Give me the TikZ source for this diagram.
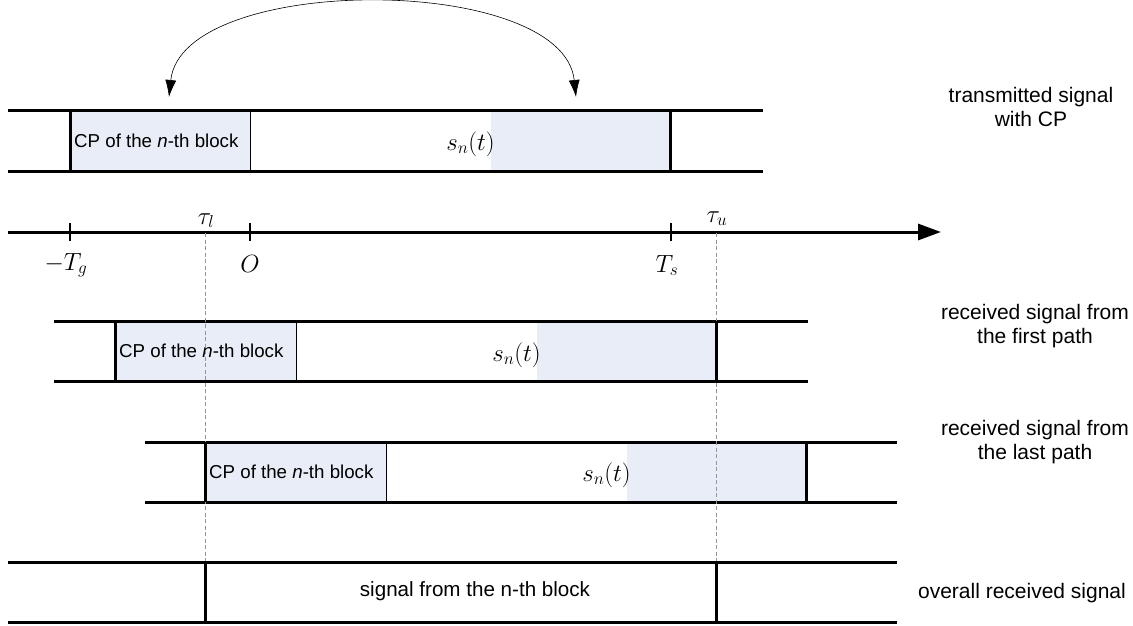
\documentclass[tikz,border=0pt]{standalone}
\usepackage{fontspec}
\setmainfont{Liberation Sans}
\usetikzlibrary{arrows.meta}
\definecolor{cpblue}{RGB}{232,237,247}
\definecolor{guidegray}{RGB}{150,150,150}
\begin{document}
\begin{tikzpicture}[x=1pt,y=-1pt,
  thickline/.style={line width=3pt},
  thinline/.style={line width=0.9pt},
  tickline/.style={line width=2.4pt},
  guide/.style={guidegray, line width=0.8pt, dash pattern=on 4pt off 2.5pt},
  cpbox/.style={fill=cpblue},
  cptext/.style={font=\fontsize{18.7}{22}\selectfont, inner sep=0pt, anchor=base west},
  mainlbl/.style={font=\fontsize{20.6}{24}\selectfont, inner sep=0pt, anchor=base},
  sidelbl/.style={font=\fontsize{21}{24}\selectfont, inner sep=0pt, align=center, anchor=base},
  sig/.style={font=\fontsize{24}{26}\selectfont, inner sep=0pt, anchor=base east},
  axlbl/.style={font=\fontsize{24}{26}\selectfont, inner sep=0pt, anchor=base}]
\useasboundingbox (0,0) rectangle (1133,626);

% ---------- row 1: transmitted signal ----------
\coordinate (r1L) at (8,110);   \coordinate (r1R) at (763,110);
\coordinate (r1Lb) at (8,171);  \coordinate (r1Rb) at (763,171);
\coordinate (r1a) at (70,110);  \coordinate (r1ab) at (70,171);
\coordinate (r1c) at (250,110); \coordinate (r1cb) at (250,171);
\coordinate (r1d) at (491,110); \coordinate (r1e) at (670,110);
\coordinate (r1eb) at (670,171);
\fill[cpblue] (r1a) rectangle (r1cb);
\fill[cpblue] (r1d) rectangle (r1eb);
\draw[thickline] (r1L) -- (r1R);
\draw[thickline] (r1Lb) -- (r1Rb);
\draw[thickline] (r1a) -- (r1ab);
\draw[thickline] (r1e) -- (r1eb);
\draw[thinline] (r1c) -- (r1cb);
\node[cptext] (cp1) at (74,147) {CP of the \textit{n}-th block};
\node[sig] (s1) at (495,150) {$s_n(t)$};

% ---------- copy arrow ----------
\coordinate (arcA) at (169,97);
\coordinate (arcB) at (576,97);
\draw[line width=0.6pt, {Latex[length=17pt,width=11pt]}-{Latex[length=17pt,width=11pt]}]
  (arcA) .. controls (182,-27) and (563,-27) .. (arcB);

% ---------- time axis ----------
\coordinate (ax0) at (8,232);
\coordinate (ax1) at (941,232);
\draw[thickline, -{Triangle[length=23pt,width=16pt]}] (ax0) -- (ax1);
\foreach \x/\nm in {70/tg,250/to,671/ts}{
  \coordinate (\nm a) at (\x,223);
  \coordinate (\nm b) at (\x,241);
  \draw[tickline] (\nm a) -- (\nm b);
}
\node[axlbl] (lTg) at (66,270) {$-T_g$};
\node[axlbl] (lO)  at (250,272) {$O$};
\node[axlbl] (lTs) at (667,272) {$T_s$};
\node[axlbl] (ltl) at (206,224) {$\tau_l$};
\node[axlbl] (ltu) at (717,222) {$\tau_u$};

% ---------- guides ----------
\coordinate (gl0) at (205,233); \coordinate (gl1) at (205,562);
\coordinate (gu0) at (716,233); \coordinate (gu1) at (716,562);

% ---------- row 2: first path ----------
\coordinate (r2L) at (54,321);  \coordinate (r2R) at (808,321);
\coordinate (r2Lb) at (54,381); \coordinate (r2Rb) at (808,381);
\coordinate (r2a) at (115,321); \coordinate (r2ab) at (115,381);
\coordinate (r2c) at (296,321); \coordinate (r2cb) at (296,381);
\coordinate (r2d) at (537,321); \coordinate (r2e) at (716,321);
\coordinate (r2eb) at (716,381);
\fill[cpblue] (r2a) rectangle (r2cb);
\fill[cpblue] (r2d) rectangle (r2eb);
\draw[thickline] (r2L) -- (r2R);
\draw[thickline] (r2Lb) -- (r2Rb);
\draw[thickline] (r2a) -- (r2ab);
\draw[thinline] (r2c) -- (r2cb);
\node[cptext] (cp2) at (119,357) {CP of the \textit{n}-th block};
\node[sig] (s2) at (541,361) {$s_n(t)$};

% ---------- row 3: last path ----------
\coordinate (r3L) at (145,442);  \coordinate (r3R) at (897,442);
\coordinate (r3Lb) at (145,502); \coordinate (r3Rb) at (897,502);
\coordinate (r3a) at (205,442);  \coordinate (r3ab) at (205,502);
\coordinate (r3c) at (386,442);  \coordinate (r3cb) at (386,502);
\coordinate (r3d) at (627,442);  \coordinate (r3e) at (806,442);
\coordinate (r3eb) at (806,502);
\fill[cpblue] (r3a) rectangle (r3cb);
\fill[cpblue] (r3d) rectangle (r3eb);
\draw[thickline] (r3L) -- (r3R);
\draw[thickline] (r3Lb) -- (r3Rb);
\draw[thickline] (r3e) -- (r3eb);
\draw[thinline] (r3c) -- (r3cb);
\node[cptext] (cp3) at (209,478) {CP of the \textit{n}-th block};
\node[sig] (s3) at (631,481) {$s_n(t)$};

% guides drawn over the rows
\draw[guide] (gl0) -- (gl1);
\draw[guide] (gu0) -- (gu1);
\draw[thickline] (r2e) -- (r2eb);
\draw[thickline] (r3a) -- (r3ab);

% ---------- row 4: overall ----------
\coordinate (r4L) at (8,562);  \coordinate (r4R) at (897,562);
\coordinate (r4Lb) at (8,622); \coordinate (r4Rb) at (897,622);
\coordinate (r4a) at (205,562); \coordinate (r4ab) at (205,622);
\coordinate (r4e) at (716,562); \coordinate (r4eb) at (716,622);
\draw[thickline] (r4L) -- (r4R);
\draw[thickline] (r4Lb) -- (r4Rb);
\draw[thickline] (r4a) -- (r4ab);
\draw[thickline] (r4e) -- (r4eb);
\node[mainlbl] (blk) at (475,596) {signal from the n-th block};

% ---------- side labels ----------
\node[sidelbl] (lab1) at (1031,126) {transmitted signal\\with CP};
\node[sidelbl] (lab2) at (1035,343) {received signal from\\the first path};
\node[sidelbl] (lab3) at (1035,459) {received signal from\\the last path};
\node[sidelbl] (lab4) at (1022,598) {overall received signal};
\end{tikzpicture}
\end{document}
